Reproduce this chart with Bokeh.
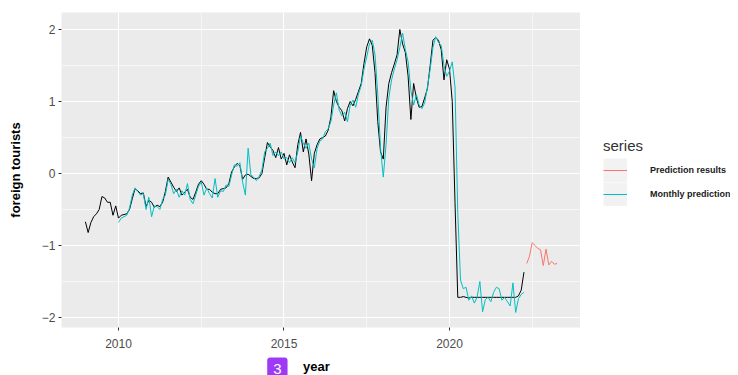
import numpy as np
from bokeh.plotting import figure
from bokeh.layouts import column, row
from bokeh.models import Range1d, FixedTicker, Legend, LegendItem, Label
from bokeh.embed import file_html
from bokeh.resources import INLINE

# ---------------- data (monthly, standardised) ----------------
actual_start = 2009.0
actual = [
    -0.67, -0.82, -0.68, -0.60, -0.56, -0.50, -0.32, -0.34, -0.40, -0.40, -0.58, -0.45,  # 2009
    -0.62, -0.58, -0.57, -0.56, -0.50, -0.35, -0.21, -0.24, -0.28, -0.27, -0.46, -0.37,  # 2010
    -0.40, -0.47, -0.44, -0.46, -0.40, -0.25, -0.05, -0.12, -0.19, -0.25, -0.20, -0.30,  # 2011
    -0.26, -0.22, -0.33, -0.36, -0.26, -0.15, -0.10, -0.15, -0.22, -0.22, -0.26, -0.28,  # 2012
    -0.28, -0.22, -0.21, -0.20, -0.14, 0.02, 0.09, 0.14, 0.11, -0.08, -0.02, -0.01,      # 2013
    -0.04, -0.07, -0.07, -0.06, 0.00, 0.22, 0.43, 0.37, 0.32, 0.22, 0.36, 0.20,          # 2014
    0.28, 0.12, 0.26, 0.16, 0.08, 0.40, 0.57, 0.30, 0.48, 0.27, -0.10, 0.28,             # 2015
    0.40, 0.48, 0.50, 0.52, 0.60, 0.78, 1.15, 1.00, 0.92, 0.87, 0.73, 0.90,              # 2016
    1.00, 0.94, 1.03, 1.14, 1.25, 1.53, 1.76, 1.87, 1.78, 1.40, 0.72, 0.30,              # 2017
    0.20, 0.92, 1.25, 1.40, 1.52, 1.65, 2.00, 1.80, 1.68, 1.35, 0.75, 1.25,              # 2018
    1.05, 0.92, 0.93, 1.05, 1.18, 1.50, 1.85, 1.89, 1.85, 1.72, 1.30, 1.58,              # 2019
    1.45, 1.00, -0.40, -1.72, -1.72, -1.71, -1.72, -1.73, -1.72, -1.72, -1.72, -1.72,    # 2020
    -1.72, -1.72, -1.72, -1.72, -1.72, -1.72, -1.72, -1.72, -1.72, -1.72, -1.72, -1.72,  # 2021
    -1.72, -1.70, -1.62, -1.37,                                                          # 2022
]

fitted_start = 2010.0
fitted = [
    -0.68, -0.62, -0.60, -0.58, -0.48, -0.30, -0.20, -0.25, -0.30, -0.28, -0.50, -0.33,  # 2010
    -0.60, -0.45, -0.46, -0.50, -0.36, -0.30, -0.08, -0.15, -0.28, -0.22, -0.33, -0.24,  # 2011
    -0.30, -0.14, -0.36, -0.42, -0.30, -0.18, -0.12, -0.30, -0.20, -0.28, -0.34, -0.07,  # 2012
    -0.33, -0.24, -0.25, -0.16, -0.18, -0.02, 0.12, 0.10, 0.15, -0.12, -0.30, 0.35,      # 2013
    -0.02, -0.05, -0.10, -0.04, 0.05, 0.30, 0.35, 0.42, 0.25, 0.30, 0.25, 0.30,          # 2014
    0.20, 0.22, 0.15, 0.22, 0.15, 0.30, 0.52, 0.42, 0.35, 0.42, 0.20, 0.08,              # 2015
    0.35, 0.45, 0.48, 0.58, 0.62, 0.72, 0.95, 1.12, 0.88, 0.80, 0.85, 0.72,              # 2016
    0.95, 1.02, 0.92, 1.10, 1.22, 1.45, 1.62, 1.80, 1.85, 1.65, 1.10, 0.35,              # 2017
    -0.05, 0.40, 1.05, 1.30, 1.45, 1.58, 1.75, 1.95, 1.72, 1.55, 1.15, 0.95,             # 2018
    1.10, 0.95, 0.90, 0.98, 1.20, 1.45, 1.75, 1.90, 1.82, 1.78, 1.50, 1.35,              # 2019
    1.42, 1.55, 1.20, -0.55, -1.48, -1.60, -1.58, -1.76, -1.70, -1.80, -1.72, -1.50,     # 2020
    -1.92, -1.75, -1.72, -1.78, -1.65, -1.58, -1.60, -1.76, -1.72, -1.78, -1.84, -1.52,  # 2021
    -1.93, -1.74, -1.68, -1.65,                                                          # 2022
]

forecast_start = 2022 + 4 / 12
forecast = [-1.25, -1.15, -0.96, -1.00, -1.04, -1.06, -1.28, -1.05, -1.27, -1.22, -1.26, -1.25]

series_names = ["Prediction results", "Monthly prediction"]
series_colors = ["#F8766D", "#00BFC4"]

x_ticks = [2010, 2015, 2020]
x_minor = [2007.5, 2012.5, 2017.5, 2022.5]
y_ticks = [-2, -1, 0, 1, 2]
y_minor = [-1.5, -0.5, 0.5, 1.5]


def months(start, n):
    return start + np.arange(n) / 12.0


FONT = "Liberation Sans"
X0, X1 = 2008.278, 2023.958
LEFT, TOP, BOTTOM = 61, 12, 27   # borders around the panel
P_W, L_W = 580, 150              # main plot width, legend column width
P_H = 354

# ---------------- main panel ----------------
p = figure(width=P_W, height=P_H, output_backend="svg", toolbar_location=None,
           x_range=Range1d(X0, X1), y_range=Range1d(-2.139, 2.236),
           min_border_left=LEFT, min_border_right=0, min_border_top=TOP, min_border_bottom=BOTTOM)

p.background_fill_color = "#ebebeb"
p.border_fill_color = "white"
p.outline_line_color = None

p.xaxis.ticker = FixedTicker(ticks=x_ticks, minor_ticks=x_minor)
p.yaxis.ticker = FixedTicker(ticks=y_ticks, minor_ticks=y_minor)

for g in (p.xgrid, p.ygrid):
    g.grid_line_color = "white"
    g.grid_line_width = 1.1
    g.minor_grid_line_color = "white"
    g.minor_grid_line_width = 0.55

for ax in (p.xaxis, p.yaxis):
    ax.axis_line_color = None
    ax.major_tick_line_color = "#333333"
    ax.major_tick_out = 3
    ax.major_tick_in = 0
    ax.minor_tick_line_color = None
    ax.major_label_text_color = "#4d4d4d"
    ax.major_label_text_font = FONT
    ax.major_label_text_font_size = "12px"
    ax.major_label_standoff = 2
    ax.axis_label_text_font = FONT
    ax.axis_label_text_font_size = "13px"
    ax.axis_label_text_font_style = "bold"
    ax.axis_label_text_color = "black"

p.xaxis.major_label_standoff = 7
p.yaxis.axis_label = "foreign tourists"
p.yaxis.axis_label_standoff = 16

p.line(months(actual_start, len(actual)), actual, line_color="black", line_width=1.0)
p.line(months(fitted_start, len(fitted)), fitted, line_color=series_colors[1], line_width=1.0)
p.line(months(forecast_start, len(forecast)), forecast, line_color=series_colors[0], line_width=1.0)

# ---------------- legend column ----------------
L = figure(width=L_W, height=P_H, output_backend="svg", toolbar_location=None,
           x_range=Range1d(0, 1), y_range=Range1d(0, 1),
           min_border_left=0, min_border_right=0, min_border_top=TOP, min_border_bottom=BOTTOM,
           x_axis_location=None, y_axis_location=None)
L.grid.visible = False
L.outline_line_color = None
L.background_fill_color = "white"
L.border_fill_color = "white"

# legend keys only (no visible marks in the plot area)
key_bg = L.line([np.nan], [np.nan], line_color="#f2f2f2", line_width=24, line_cap="butt")
items = []
for name, col in zip(series_names, series_colors):
    r = L.line([np.nan], [np.nan], line_color=col, line_width=1.0)
    items.append(LegendItem(label=name, renderers=[key_bg, r]))

legend = Legend(
    items=items, location=(23, 121),
    title="series", title_text_font=FONT, title_text_font_size="15px",
    title_text_font_style="normal", title_text_color="#333333", title_standoff=4,
    glyph_width=24, glyph_height=24, label_standoff=23, spacing=0, padding=0, margin=0,
    background_fill_alpha=0, border_line_color=None,
    label_text_font=FONT, label_text_font_size="9px", label_text_font_style="bold",
    label_text_color="#1a1a1a",
)
L.add_layout(legend)

# ---------------- strip under the plot: x-axis title and panel badge ----------------
q = figure(width=P_W + L_W, height=21, output_backend="svg", toolbar_location=None,
           x_range=Range1d(X0, X1), y_range=Range1d(0, 21),
           min_border_left=LEFT, min_border_right=L_W, min_border_top=0, min_border_bottom=0,
           x_axis_location=None, y_axis_location=None)
q.grid.visible = False
q.outline_line_color = None
q.background_fill_color = "white"
q.border_fill_color = "white"

q.add_layout(Label(x=2015.98, y=9, text="year", text_align="center", text_baseline="middle",
                   text_color="black", text_font=FONT, text_font_size="13px",
                   text_font_style="bold"))
q.add_layout(Label(x=2014.80, y=18, text="3", text_align="center", text_baseline="top",
                   text_color="white", text_font=FONT, text_font_size="15px",
                   background_fill_color="#9d3af7", padding=6, border_radius=3))

layout = column(row(p, L, spacing=0), q, spacing=0)
open("out.html", "w").write(file_html(layout, INLINE))
